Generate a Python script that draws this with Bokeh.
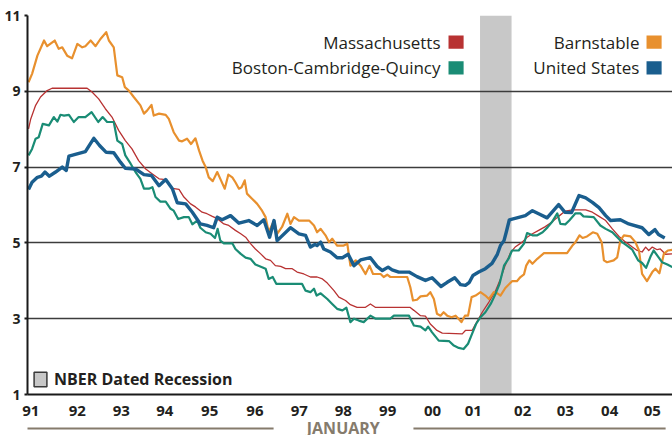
from bokeh.plotting import figure
from bokeh.layouts import column
from bokeh.models import (Range1d, FixedTicker, Label, BoxAnnotation, Legend,
                          LegendItem)
from bokeh.core.properties import value
from bokeh.embed import file_html
from bokeh.resources import INLINE

# ---------------- data (decimal year, percent) ----------------
ma_t = [1991.0, 1991.05, 1991.16, 1991.27, 1991.42, 1991.53, 1992.32, 1992.43, 1992.58, 1992.73, 1992.88,
        1993.03, 1993.18, 1993.33, 1993.48, 1993.64, 1993.79, 1993.94, 1994.09, 1994.24, 1994.39, 1994.5,
        1994.65, 1994.76, 1994.91, 1995.02, 1995.14, 1995.25, 1995.4, 1995.51, 1995.66, 1995.78, 1995.89,
        1996.0, 1996.11, 1996.23, 1996.34, 1996.45, 1996.56, 1996.68, 1996.79, 1996.94, 1997.05, 1997.2,
        1997.35, 1997.5, 1997.62, 1997.73, 1997.88, 1997.99, 1998.14, 1998.25, 1998.4, 1998.59, 1998.7,
        1998.81, 1999.59, 1999.68, 1999.83, 1999.94, 2000.05, 2000.2, 2000.32, 2000.77, 2000.84, 2000.99,
        2001.07, 2001.22, 2001.37, 2001.52, 2001.63, 2001.74, 2001.86, 2001.97, 2002.12, 2002.23, 2002.35,
        2002.49, 2002.64, 2002.79, 2002.94, 2003.09, 2003.25, 2003.55, 2003.7, 2003.85, 2004.0, 2004.15,
        2004.3, 2004.45, 2004.6, 2004.71, 2004.82, 2004.9, 2004.97, 2005.05, 2005.16, 2005.23, 2005.35, 2005.5]
ma_v = [8.01, 8.27, 8.63, 8.85, 9.02, 9.08, 9.08, 8.98, 8.8, 8.54, 8.32,
        7.97, 7.7, 7.48, 7.17, 6.95, 6.82, 6.69, 6.67, 6.44, 6.41, 6.21,
        6.03, 5.95, 5.81, 5.77, 5.7, 5.64, 5.5, 5.46, 5.33, 5.24, 5.15,
        4.98, 4.84, 4.71, 4.58, 4.54, 4.4, 4.38, 4.32, 4.32, 4.23, 4.18,
        4.1, 4.1, 4.05, 3.94, 3.74, 3.57, 3.48, 3.37, 3.3, 3.3, 3.39,
        3.3, 3.3, 3.22, 3.08, 3.07, 2.86, 2.69, 2.62, 2.6, 2.69, 2.69,
        2.86, 3.17, 3.44, 3.74, 4.05, 4.42, 4.75, 4.9, 5.02, 5.15, 5.24,
        5.33, 5.43, 5.55, 5.7, 5.84, 5.87, 5.87, 5.81, 5.7, 5.59, 5.37,
        5.17, 5.02, 4.89, 4.8, 4.76, 4.89, 4.8, 4.89, 4.82, 4.84, 4.7, 4.71]

barn_t = [1991.0, 1991.08, 1991.2, 1991.35, 1991.42, 1991.59, 1991.68, 1991.76, 1991.87, 1991.98, 1992.1,
          1992.21, 1992.28, 1992.4, 1992.51, 1992.62, 1992.75, 1992.81, 1992.92, 1993.0, 1993.11, 1993.17,
          1993.26, 1993.37, 1993.52, 1993.6, 1993.67, 1993.77, 1993.82, 1993.94, 1994.09, 1994.16, 1994.27,
          1994.39, 1994.46, 1994.57, 1994.66, 1994.76, 1994.84, 1994.92, 1994.99, 1995.06, 1995.15, 1995.25,
          1995.32, 1995.42, 1995.5, 1995.59, 1995.66, 1995.74, 1995.8, 1995.87, 1995.92, 1996.04, 1996.15,
          1996.26, 1996.34, 1996.41, 1996.53, 1996.6, 1996.71, 1996.83, 1996.9, 1996.98, 1997.09, 1997.32,
          1997.43, 1997.5, 1997.58, 1997.69, 1997.77, 1997.84, 1997.95, 1998.1, 1998.18, 1998.25, 1998.37,
          1998.48, 1998.59, 1998.68, 1998.76, 1998.93, 1999.0, 1999.08, 1999.15, 1999.53, 1999.6, 1999.66,
          1999.75, 1999.83, 1999.98, 2000.05, 2000.13, 2000.2, 2000.28, 2000.35, 2000.43, 2000.53, 2000.62,
          2000.69, 2000.75, 2000.83, 2000.9, 2000.98, 2001.07, 2001.18, 2001.29, 2001.37, 2001.48, 2001.56,
          2001.63, 2001.74, 2001.89, 2002.0, 2002.08, 2002.16, 2002.21, 2002.28, 2002.35, 2002.46, 2002.61,
          2003.13, 2003.25, 2003.32, 2003.41, 2003.48, 2003.58, 2003.71, 2003.81, 2003.91, 2003.96, 2004.03,
          2004.18, 2004.26, 2004.33, 2004.41, 2004.56, 2004.67, 2004.75, 2004.82, 2004.93, 2005.05, 2005.12,
          2005.21, 2005.31, 2005.4, 2005.5]
barn_v = [9.24, 9.46, 9.94, 10.34, 10.19, 10.34, 10.12, 10.16, 9.94, 9.87, 10.25,
          10.16, 10.19, 10.34, 10.19, 10.38, 10.56, 10.34, 10.16, 9.42, 9.37, 9.11,
          9.02, 8.85, 8.63, 8.41, 8.49, 8.64, 8.36, 8.41, 8.38, 8.27, 7.92,
          7.7, 7.68, 7.75, 7.61, 7.76, 7.44, 7.17, 7.0, 6.73, 6.63, 6.87,
          6.69, 6.43, 6.8, 6.73, 6.6, 6.43, 6.47, 6.65, 6.3, 6.16, 6.03,
          5.85, 5.68, 5.28, 5.59, 5.24, 5.42, 5.77, 5.5, 5.68, 5.59, 5.59,
          5.46, 5.28, 5.37, 5.2, 5.02, 5.11, 4.93, 4.93, 4.98, 4.4, 4.54,
          4.4, 4.18, 4.4, 4.18, 4.18, 4.1, 4.16, 4.1, 4.1, 3.83, 3.48,
          3.5, 3.59, 3.61, 3.7, 3.52, 3.13, 3.08, 3.17, 3.08, 3.04, 3.08,
          2.99, 2.91, 3.08, 3.08, 3.57, 3.61, 3.7, 3.61, 3.52, 3.7, 3.67,
          3.61, 3.81, 3.99, 3.99, 4.1, 4.17, 4.4, 4.54, 4.45, 4.58, 4.73,
          4.73, 4.93, 5.02, 5.2, 5.13, 5.17, 5.28, 5.24, 5.02, 4.54, 4.49,
          4.54, 4.62, 5.06, 5.2, 5.17, 5.02, 4.8, 4.18, 3.99, 4.23, 4.32,
          4.2, 4.71, 4.8, 4.82]

bos_t = [1991.0, 1991.08, 1991.16, 1991.23, 1991.32, 1991.46, 1991.57, 1991.65, 1991.72, 1991.8, 1991.91,
         1992.02, 1992.13, 1992.28, 1992.42, 1992.57, 1992.67, 1992.77, 1992.92, 1993.0, 1993.11, 1993.18,
         1993.3, 1993.41, 1993.52, 1993.6, 1993.71, 1993.79, 1993.86, 1993.97, 1994.09, 1994.2, 1994.27,
         1994.37, 1994.5, 1994.61, 1994.69, 1994.8, 1994.87, 1994.99, 1995.1, 1995.2, 1995.26, 1995.32,
         1995.4, 1995.59, 1995.66, 1995.78, 1995.89, 1996.0, 1996.11, 1996.26, 1996.34, 1996.41, 1996.5,
         1996.58, 1997.16, 1997.24, 1997.35, 1997.43, 1997.49, 1997.58, 1997.73, 1997.84, 1997.95, 1998.07,
         1998.16, 1998.25, 1998.33, 1998.44, 1998.55, 1998.7, 1998.82, 1999.15, 1999.23, 1999.57, 1999.68,
         1999.83, 1999.94, 2000.0, 2000.09, 2000.24, 2000.47, 2000.58, 2000.69, 2000.8, 2000.9, 2000.99,
         2001.08, 2001.18, 2001.29, 2001.41, 2001.52, 2001.61, 2001.71, 2001.82, 2001.89, 2002.04, 2002.16,
         2002.23, 2002.35, 2002.46, 2002.58, 2002.69, 2002.79, 2002.91, 2002.98, 2003.09, 2003.18, 2003.32,
         2003.43, 2003.5, 2003.73, 2003.88, 2004.0, 2004.15, 2004.26, 2004.37, 2004.48, 2004.6, 2004.73,
         2004.82, 2004.91, 2005.01, 2005.08, 2005.18, 2005.27, 2005.39, 2005.5]
bos_v = [7.31, 7.48, 7.75, 7.79, 8.14, 8.1, 8.32, 8.2, 8.38, 8.36, 8.38,
         8.19, 8.32, 8.32, 8.45, 8.19, 8.32, 8.19, 8.19, 7.7, 7.61, 7.31,
         7.09, 6.87, 6.69, 6.43, 6.43, 6.47, 6.21, 6.09, 6.09, 5.9, 5.85,
         5.63, 5.68, 5.68, 5.49, 5.59, 5.4, 5.28, 5.24, 5.13, 5.37, 5.06,
         4.99, 4.99, 4.84, 4.71, 4.61, 4.58, 4.43, 4.36, 4.32, 4.05, 4.1,
         3.92, 3.92, 3.74, 3.7, 3.79, 3.61, 3.67, 3.52, 3.39, 3.26, 3.22,
         3.29, 2.91, 3.0, 2.95, 2.91, 3.08, 3.0, 3.0, 3.08, 3.08, 2.82,
         2.79, 2.69, 2.79, 2.64, 2.42, 2.41, 2.29, 2.23, 2.2, 2.34, 2.6,
         2.86, 3.04, 3.17, 3.39, 3.66, 3.92, 4.4, 4.6, 4.8, 4.8, 4.98,
         5.26, 5.2, 5.2, 5.28, 5.41, 5.55, 5.78, 5.5, 5.49, 5.59, 5.78,
         5.78, 5.7, 5.68, 5.46, 5.37, 5.28, 5.15, 5.02, 4.93, 4.82, 4.54,
         4.47, 4.34, 4.64, 4.8, 4.64, 4.49, 4.43, 4.36]

us_t = [1991.0, 1991.08, 1991.2, 1991.29, 1991.37, 1991.47, 1991.61, 1991.76, 1991.85, 1991.91, 1992.28,
        1992.47, 1992.6, 1992.75, 1992.92, 1993.07, 1993.18, 1993.41, 1993.6, 1993.77, 1993.94, 1994.09,
        1994.24, 1994.35, 1994.54, 1994.69, 1994.87, 1995.02, 1995.17, 1995.25, 1995.36, 1995.55, 1995.74,
        1995.96, 1996.15, 1996.3, 1996.43, 1996.53, 1996.6, 1996.9, 1997.09, 1997.24, 1997.35, 1997.45,
        1997.5, 1997.58, 1997.65, 1997.8, 1997.95, 1998.07, 1998.2, 1998.33, 1998.48, 1998.7, 1998.85,
        1998.97, 1999.1, 1999.19, 1999.34, 1999.57, 1999.75, 1999.94, 2000.09, 2000.29, 2000.43, 2000.6,
        2000.73, 2000.84, 2000.93, 2001.01, 2001.14, 2001.29, 2001.44, 2001.56, 2001.63, 2001.71, 2001.76,
        2001.83, 2002.0, 2002.19, 2002.35, 2002.49, 2002.68, 2002.94, 2003.08, 2003.23, 2003.4, 2003.55,
        2003.7, 2003.85, 2004.0, 2004.11, 2004.33, 2004.52, 2004.82, 2004.97, 2005.11, 2005.19, 2005.33]
us_v = [6.41, 6.6, 6.73, 6.76, 6.87, 6.76, 6.87, 7.0, 6.91, 7.29, 7.41,
        7.76, 7.57, 7.39, 7.38, 7.13, 6.97, 6.95, 6.8, 6.78, 6.51, 6.67,
        6.43, 6.06, 6.03, 5.81, 5.5, 5.46, 5.4, 5.68, 5.61, 5.72, 5.52,
        5.59, 5.46, 5.61, 5.15, 5.59, 5.06, 5.4, 5.24, 5.2, 4.89, 4.96,
        4.93, 5.02, 4.84, 4.76, 4.61, 4.61, 4.7, 4.4, 4.55, 4.61, 4.38,
        4.27, 4.36, 4.29, 4.23, 4.23, 4.11, 4.01, 4.08, 3.85, 3.96, 4.08,
        3.9, 3.88, 3.96, 4.14, 4.23, 4.32, 4.46, 4.7, 4.93, 5.06, 5.28,
        5.61, 5.66, 5.72, 5.85, 5.77, 5.66, 6.01, 5.81, 5.8, 6.25, 6.19,
        6.07, 5.93, 5.72, 5.59, 5.61, 5.5, 5.4, 5.22, 5.35, 5.22, 5.13]

recession_start = 2001.17
recession_end = 2001.88

year_labels = ["91", "92", "93", "94", "95", "96", "97", "98", "99",
               "00", "01", "02", "03", "04", "05"]
year_label_pos = [1991.05, 1992.1, 1993.09, 1994.07, 1995.08, 1996.1, 1997.1, 1998.09,
                  1999.09, 2000.1, 2001.02, 2002.13, 2003.09, 2004.09, 2005.05]
y_ticks = [1, 3, 5, 7, 9, 11]
month_caption = "JANUARY"

series = [
    ("Massachusetts", ma_t, ma_v, "#b83232", 1.3),
    ("Barnstable", barn_t, barn_v, "#e8902e", 2.2),
    ("Boston-Cambridge-Quincy", bos_t, bos_v, "#1a8c75", 2.2),
    ("United States", us_t, us_v, "#1a5e8e", 3.4),
]

FONT = "Open Sans"
DARK = "#231f20"
TAUPE = "#857b6c"

p = figure(width=672, height=420, output_backend="svg", toolbar_location=None,
           x_range=Range1d(1990.977, 2005.505), y_range=Range1d(1, 11),
           min_border_left=27, min_border_right=0, min_border_top=15, min_border_bottom=26)
p.outline_line_color = None
p.background_fill_color = "white"
p.border_fill_color = "white"

# recession band
p.quad(left=[recession_start], right=[recession_end], bottom=[p.y_range.start], top=[p.y_range.end],
       fill_color="#c8c8c8", line_color=None, level="image")

# grid
p.xgrid.visible = False
p.ygrid.ticker = FixedTicker(ticks=[3, 5, 7, 9, 11])
p.ygrid.grid_line_color = "#3c3c3c"
p.ygrid.grid_line_width = 1.4

# axes
p.xaxis.ticker = FixedTicker(ticks=year_label_pos)
p.xaxis.major_label_overrides = {pos: lab for pos, lab in zip(year_label_pos, year_labels)}
p.xaxis.major_tick_out = 0
p.xaxis.major_tick_in = 0
p.xaxis.minor_tick_out = 0
p.xaxis.minor_tick_in = 0
p.xaxis.axis_line_color = "#1a1a1a"
p.xaxis.axis_line_width = 2
p.xaxis.major_label_standoff = 11
p.xaxis.major_label_text_font = FONT
p.xaxis.major_label_text_font_style = "bold"
p.xaxis.major_label_text_font_size = "15px"
p.xaxis.major_label_text_color = DARK

p.yaxis.ticker = FixedTicker(ticks=y_ticks)
p.yaxis.major_tick_out = 3
p.yaxis.major_tick_in = 0
p.yaxis.minor_tick_out = 0
p.yaxis.minor_tick_in = 0
p.yaxis.major_tick_line_color = "#1a1a1a"
p.yaxis.major_tick_line_width = 2
p.yaxis.axis_line_color = "#1a1a1a"
p.yaxis.axis_line_width = 2
p.yaxis.major_label_standoff = 4
p.yaxis.major_label_text_font = FONT
p.yaxis.major_label_text_font_style = "bold"
p.yaxis.major_label_text_font_size = "14px"
p.yaxis.major_label_text_color = DARK

# lines
for name, t, v, color, w in series:
    p.line(t, v, line_color=color, line_width=w, line_join="round")

# top legend (text at left of swatch)
legend_cols = [(2000.28, 2000.46, 2000.80), (2004.76, 2004.92, 2005.26)]
legend_rows = [(10.295, 10.12, 10.47), (9.615, 9.44, 9.79)]
legend_layout = [("Massachusetts", 0, 0), ("Boston-Cambridge-Quincy", 0, 1),
                 ("Barnstable", 1, 0), ("United States", 1, 1)]
colors = {s[0]: s[3] for s in series}
for name, c, r in legend_layout:
    tx, sl, sr = legend_cols[c]
    mid, sb, st = legend_rows[r]
    p.add_layout(Label(x=tx, y=mid, text=name, text_align="right", text_baseline="middle",
                       text_font=FONT, text_font_size="17px", text_color=DARK))
    p.add_layout(BoxAnnotation(left=sl, right=sr, bottom=sb, top=st, fill_color=colors[name],
                               fill_alpha=1, line_color=None))

# NBER legend (swatch renderer sits outside the visible range)
dummy = p.quad(left=[1980.0], right=[1980.1], bottom=[0.0], top=[0.1], fill_color="#c8c8c8",
               line_color="#3a3a3a", line_width=1.5)
leg = Legend(items=[LegendItem(label="NBER Dated Recession", renderers=[dummy])],
             location=(5, 4), margin=0, padding=0, glyph_width=16, glyph_height=18,
             label_standoff=6, border_line_color=None, background_fill_alpha=0,
             label_text_font=FONT, label_text_font_style="bold", label_text_font_size="16px",
             label_text_color=DARK)
p.add_layout(leg)

# caption strip under the axis: "JANUARY" flanked by rules (same x mapping as the chart)
cap = figure(width=672, height=15, output_backend="svg", toolbar_location=None,
             x_range=p.x_range, y_range=Range1d(0, 15),
             min_border_left=27, min_border_right=0, min_border_top=0, min_border_bottom=0,
             x_axis_location=None, y_axis_location=None)
cap.outline_line_color = None
cap.xgrid.visible = False
cap.ygrid.visible = False
cap.border_fill_color = "white"
cap.background_fill_color = "white"
cap.segment(x0=[1990.84, 1999.67], x1=[1996.52, 2005.35], y0=[7, 7], y1=[7, 7],
            line_color=TAUPE, line_width=2)
cap.text(x=[1998.09], y=[7.5], text=[month_caption], text_align="center", text_baseline="middle",
         text_font=value(FONT), text_font_style="bold", text_font_size="16px", text_color=TAUPE)

layout = column(p, cap, spacing=0)
open("out.html", "w").write(file_html(layout, INLINE))
